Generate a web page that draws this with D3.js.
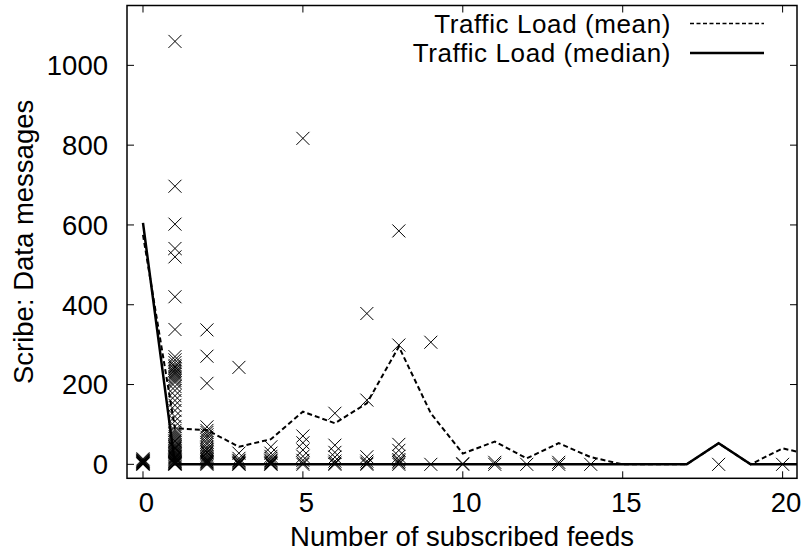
<!DOCTYPE html>
<html>
<head>
<meta charset="utf-8">
<script src="https://cdn.jsdelivr.net/npm/d3@7"></script>
<style>
  html, body { margin: 0; padding: 0; background: #fff; }
  svg text { font-family: "Liberation Sans", Arial, Helvetica, sans-serif; fill: #000; }
</style>
</head>
<body>
<svg id="chart" width="804" height="554"></svg>
<script>
// ---- data ----
const feedCounts = [0,1,2,3,4,5,6,7,8,9,10,11,12,13,14,15,16,17,18,19,20,21];
const meanLoad   = [575,90,86,44,63,132,103,153,295,128,27,57,15,53,18,0,0,0,53,0,40,22];
const medianLoad = [605,0,0,0,0,0,0,0,0,0,0,0,0,0,0,0,0,0,53,0,0,0];

// scatter: each user's data messages, grouped by number of subscribed feeds
const scatterFeeds = [0,1,2,3,4,5,6,7,8,9,10,11,12,13,14,18,20];
const scatterValues = [
  [0,1,2,3,4,5,6,7,8,9,10,12,14],
  [1060,697,602,541,520,420,338,270,262,255,248,244,240,236,232,228,225,220,215,210,205,195,185,172,160,148,135,120,108,95,85,80,75,70,65,60,58,55,50,47,44,41,38,35,32,30,27,25,22,20,18,16,14,12,10,8,7,5,4,3,2,1,0],
  [337,271,203,94,85,80,74,68,62,55,50,43,38,35,31,28,24,20,17,14,11,8,6,4,2,0],
  [243,28,15,10,8,5,3,1,0],
  [44,28,20,15,10,8,5,3,1,0],
  [817,71,54,36,20,10,4,0],
  [128,48,30,18,8,3,0],
  [378,161,19,8,3,0],
  [585,299,50,35,20,12,8,4,0],
  [306,0],
  [2,0],
  [5,0],
  [0],
  [5,0],
  [0],
  [0],
  [0]
];

const xTicks = [0,5,10,15,20];
const yTicks = [0,200,400,600,800,1000];
const xTitle = "Number of subscribed feeds";
const yTitle = "Scribe: Data messages";
const legendLabels = ["Traffic Load (mean)", "Traffic Load (median)"];

// ---- layout ----
const svg = d3.select("#chart");
const L = 127, R = 797, T = 5.5, B = 478.3;
const x = d3.scaleLinear().domain([-0.5, 20.45]).range([L, R]);
const y = d3.scaleLinear().domain([-35, 1150]).range([B, T]);
const fs = 27.5;
const capHalf = 0.716 * fs / 2;

svg.append("defs").append("clipPath").attr("id", "clip")
  .append("rect").attr("x", L).attr("y", T).attr("width", R - L).attr("height", B - T);

// ticks (mirrored, inward)
const tickLen = 7;
const tg = svg.append("g").attr("stroke", "#000").attr("stroke-width", 1);
xTicks.forEach(t => {
  tg.append("line").attr("x1", x(t)).attr("x2", x(t)).attr("y1", B).attr("y2", B - tickLen);
  tg.append("line").attr("x1", x(t)).attr("x2", x(t)).attr("y1", T).attr("y2", T + tickLen);
});
yTicks.forEach(t => {
  tg.append("line").attr("x1", L).attr("x2", L + tickLen).attr("y1", y(t)).attr("y2", y(t));
  tg.append("line").attr("x1", R).attr("x2", R - tickLen).attr("y1", y(t)).attr("y2", y(t));
});

// tick labels
svg.append("g").selectAll("text").data(xTicks).join("text")
  .attr("x", d => x(d) + 3.5).attr("y", 512)
  .attr("text-anchor", "middle").attr("font-size", fs).text(d => d);
svg.append("g").selectAll("text").data(yTicks).join("text")
  .attr("x", 108).attr("y", d => y(d) + capHalf)
  .attr("text-anchor", "end").attr("font-size", fs).text(d => d);

// axis titles
svg.append("text").attr("x", (L + R) / 2).attr("y", 546)
  .attr("text-anchor", "middle").attr("font-size", fs).text(xTitle);
svg.append("text").attr("transform", `translate(33,${(T + B) / 2}) rotate(-90)`)
  .attr("text-anchor", "middle").attr("font-size", fs).text(yTitle);

// scatter crosses
const pts = [];
scatterFeeds.forEach((f, i) => scatterValues[i].forEach(v => pts.push([f, v])));
const cs = 6.5;
const pg = svg.append("g").attr("stroke", "#000").attr("stroke-width", 1).attr("fill", "none");
pg.selectAll("path").data(pts).join("path")
  .attr("d", d => {
    const px = x(d[0]), py = y(d[1]);
    return `M${px - cs},${py - cs}L${px + cs},${py + cs}M${px - cs},${py + cs}L${px + cs},${py - cs}`;
  });

// lines
const lineGen = d3.line().x(d => x(d[0])).y(d => y(d[1]));
const lg = svg.append("g").attr("clip-path", "url(#clip)");
lg.append("path").datum(feedCounts.map((f, i) => [f, meanLoad[i]]))
  .attr("d", lineGen).attr("fill", "none").attr("stroke", "#000")
  .attr("stroke-width", 2).attr("stroke-dasharray", "5,3");
lg.append("path").datum(feedCounts.map((f, i) => [f, medianLoad[i]]))
  .attr("d", lineGen).attr("fill", "none").attr("stroke", "#000")
  .attr("stroke-width", 2.5);

// border
svg.append("rect").attr("x", L).attr("y", T).attr("width", R - L).attr("height", B - T)
  .attr("fill", "none").attr("stroke", "#000").attr("stroke-width", 1.5);

// legend
const lfs = 26;
const legY = [23.5, 53];
legendLabels.forEach((lab, i) => {
  svg.append("text").attr("x", 671).attr("y", legY[i] + 0.716 * lfs / 2)
    .attr("text-anchor", "end").attr("font-size", lfs)
    .attr("letter-spacing", 0.6).text(lab);
  svg.append("line").attr("x1", 690).attr("x2", 764).attr("y1", legY[i]).attr("y2", legY[i])
    .attr("stroke", "#000")
    .attr("stroke-width", i === 0 ? 1.5 : 2.5)
    .attr("stroke-dasharray", i === 0 ? "4,2.5" : null);
});
</script>
</body>
</html>
